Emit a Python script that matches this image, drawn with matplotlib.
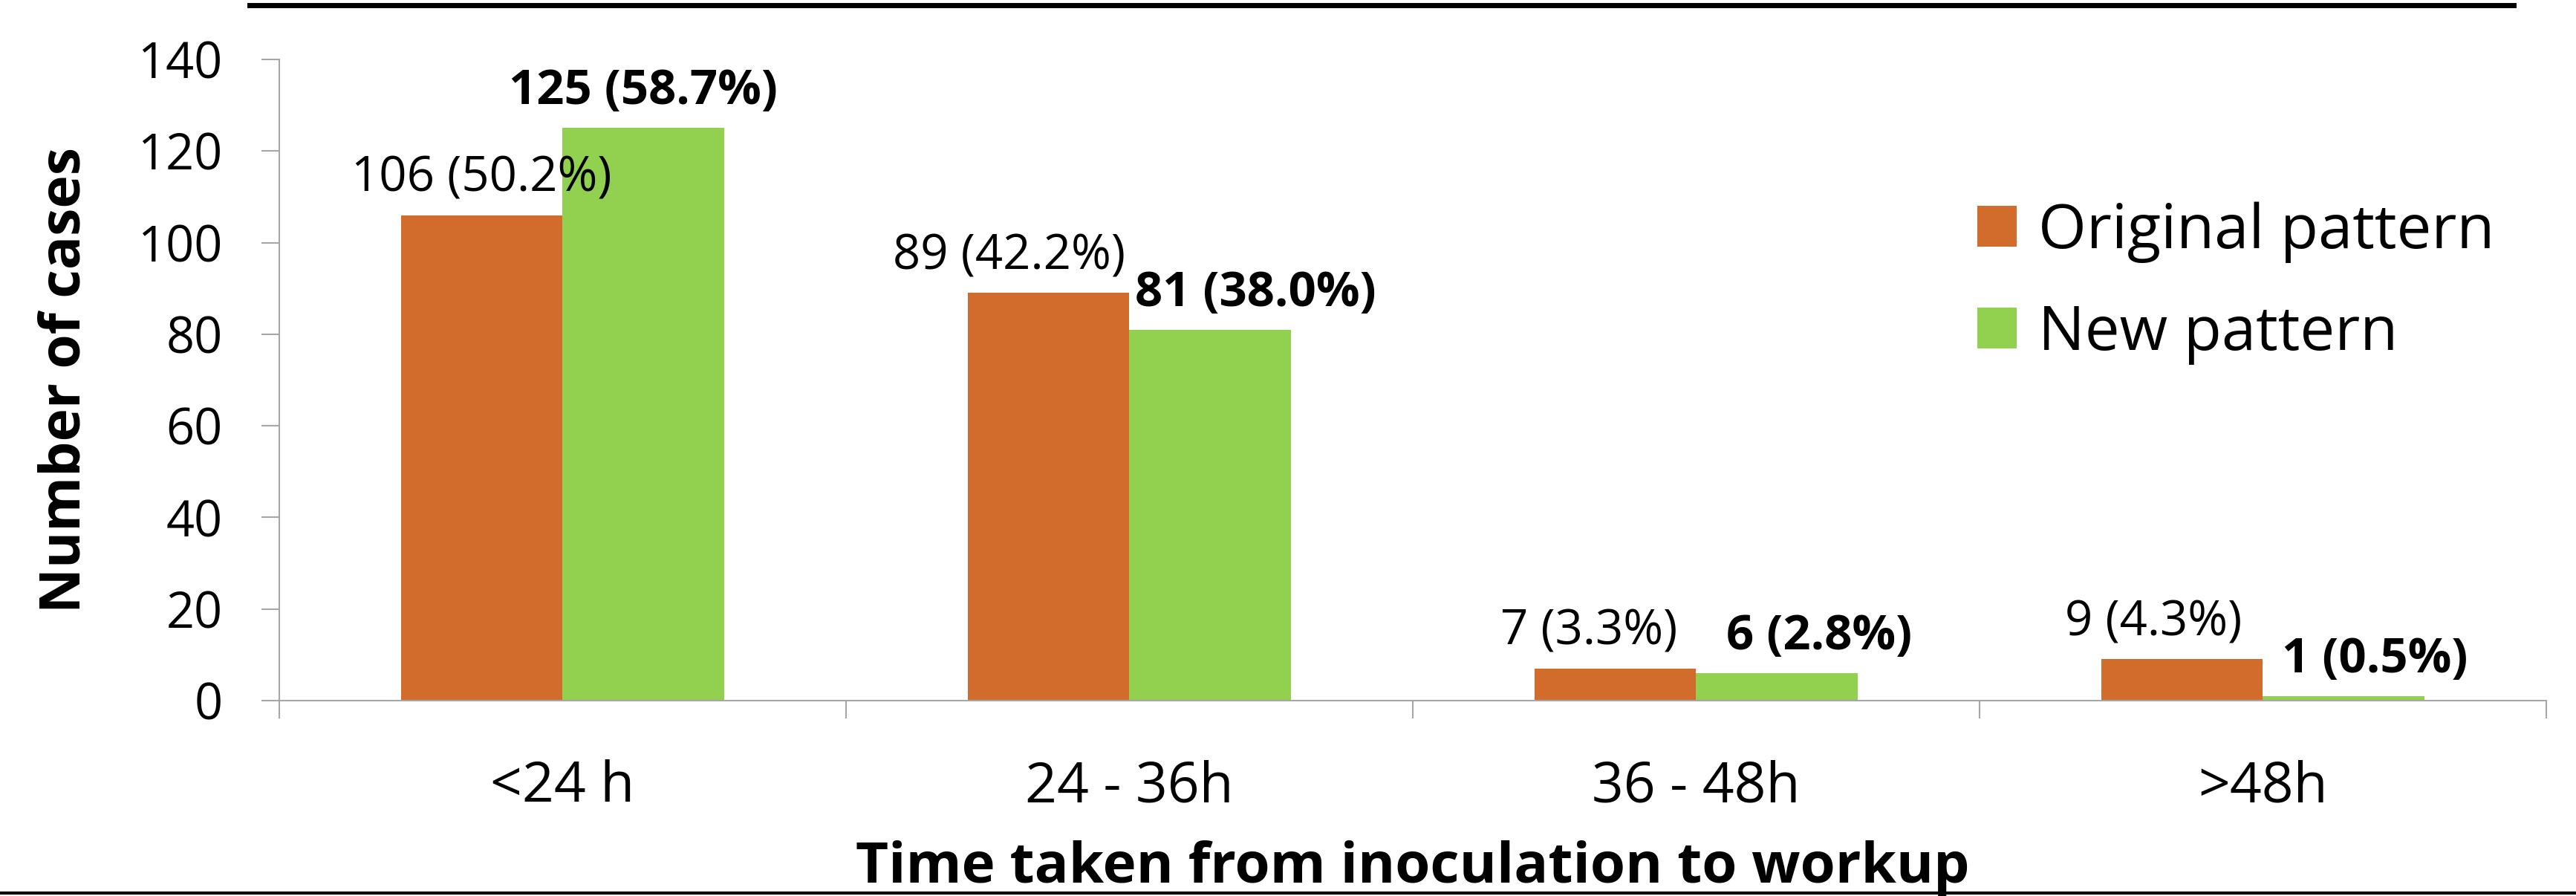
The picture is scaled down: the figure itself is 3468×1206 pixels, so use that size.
import numpy as np
import matplotlib
matplotlib.use("Agg")
import matplotlib.pyplot as plt
from matplotlib.lines import Line2D

plt.rcParams['font.family'] = ['Open Sans', 'DejaVu Sans']

# workup timing, original vs new reading pattern
categories = ['<24 h', '24 - 36h', '36 - 48h', '>48h']
orig_counts = [106, 89, 7, 9]
orig_pct = [50.2, 42.2, 3.3, 4.3]
new_counts = [125, 81, 6, 1]
new_pct = [58.7, 38.0, 2.8, 0.5]

# horizontal nudges for the value labels (category units)
orig_shift = [0.0, -0.07, -0.046, -0.05]
new_shift = [0.0, 0.08, 0.075, 0.055]

c_orig = '#D26C2C'
c_new = '#92D050'
grey = '#A6A6A6'

fig = plt.figure(figsize=(34.68, 12.06), dpi=100)
ax = fig.add_axes([0.1084, 0.2181, 0.880, 0.7156])

x = np.arange(len(categories))
w = 0.285
b1 = ax.bar(x - w/2, orig_counts, w, color=c_orig, label='Original pattern')
b2 = ax.bar(x + w/2, new_counts, w, color=c_new, label='New pattern')

for i in range(len(categories)):
    ax.annotate(f"{orig_counts[i]} ({orig_pct[i]:.1f}%)",
                (x[i] - w/2 + orig_shift[i], orig_counts[i]),
                xytext=(0, 23), textcoords='offset points',
                ha='center', va='baseline', fontsize=47)
    ax.annotate(f"{new_counts[i]} ({new_pct[i]:.1f}%)",
                (x[i] + w/2 + new_shift[i], new_counts[i]),
                xytext=(0, 23), textcoords='offset points',
                ha='center', va='baseline', fontsize=47, fontweight='bold')

ax.set_xlim(-0.5, len(categories) - 0.5)
ax.set_ylim(0, 140)
ax.set_yticks(np.arange(0, 141, 20))
ax.set_xticks(x)
ax.set_xticklabels(categories)
ax.set_xticks(np.arange(-0.5, len(categories)), minor=True)

for s in ['top', 'right']:
    ax.spines[s].set_visible(False)
for s in ['left', 'bottom']:
    ax.spines[s].set_color(grey)
    ax.spines[s].set_linewidth(1.5)

ax.tick_params(axis='y', direction='out', length=17, width=1.5, color=grey,
               labelsize=48, pad=38)
ax.tick_params(axis='x', which='major', length=0, labelsize=54, pad=57)
ax.tick_params(axis='x', which='minor', direction='out', length=17, width=1.5, color=grey)

ax.set_ylabel('Number of cases', fontsize=54, fontweight='bold')
ax.yaxis.label.set_va('baseline')
ax.yaxis.set_label_coords(-0.0881, 0.5)
ax.set_xlabel('Time taken from inoculation to workup', fontsize=55, fontweight='bold')
ax.xaxis.label.set_va('baseline')
ax.xaxis.set_label_coords(0.5, -0.284)

ax.legend(loc='center left', bbox_to_anchor=(0.7676, 0.684),
          bbox_transform=fig.transFigure, frameon=False, fontsize=60,
          handlelength=0.64, handleheight=0.64, handletextpad=0.34,
          labelspacing=0.65, borderpad=0, borderaxespad=0)

# rule under the (cropped) heading and at the foot of the panel
fig.add_artist(Line2D([0.0969, 0.9758], [0.9946, 0.9946], lw=5, color='black',
                      transform=fig.transFigure))
fig.add_artist(Line2D([0, 1], [0.0033, 0.0033], lw=3, color='black',
                      transform=fig.transFigure))

fig.savefig('out.png', dpi=100)
